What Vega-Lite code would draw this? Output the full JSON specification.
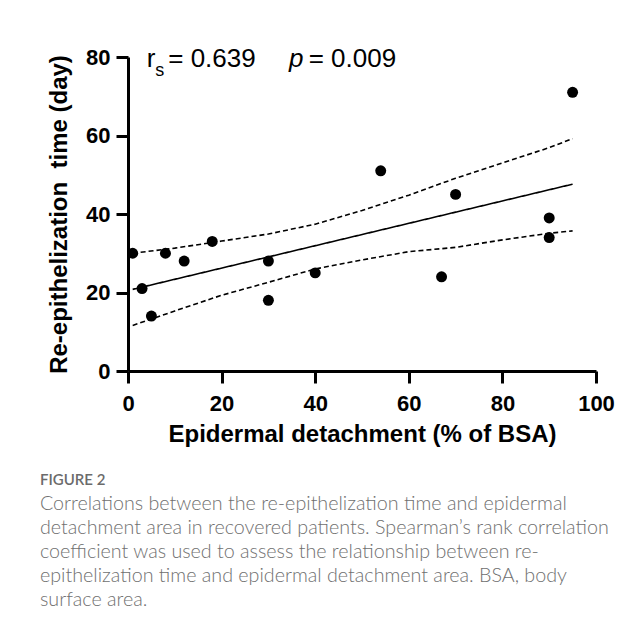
{
  "$schema": "https://vega.github.io/schema/vega-lite/v6.json",
  "width": 468,
  "height": 314,
  "autosize": {"type": "none"},
  "padding": {"left": 128, "top": 57, "right": 45, "bottom": 262},
  "background": "white",
  "datasets": {
    "points": [
      {"x": 1, "y": 30}, {"x": 3, "y": 21}, {"x": 5, "y": 14}, {"x": 8, "y": 30},
      {"x": 12, "y": 28}, {"x": 18, "y": 33}, {"x": 30, "y": 28}, {"x": 30, "y": 18},
      {"x": 40, "y": 25}, {"x": 54, "y": 51}, {"x": 67, "y": 24}, {"x": 70, "y": 45},
      {"x": 90, "y": 39}, {"x": 90, "y": 34}, {"x": 95, "y": 71}
    ],
    "lines": [
      {"series": "fit", "kind": "fit", "x": 1, "y": 20.8},
      {"series": "fit", "kind": "fit", "x": 95, "y": 47.6},
      {"series": "upper", "kind": "band", "x": 1, "y": 30.0},
      {"series": "upper", "kind": "band", "x": 10, "y": 31.3},
      {"series": "upper", "kind": "band", "x": 20, "y": 33.1},
      {"series": "upper", "kind": "band", "x": 30, "y": 34.9},
      {"series": "upper", "kind": "band", "x": 40, "y": 37.4},
      {"series": "upper", "kind": "band", "x": 50, "y": 40.9},
      {"series": "upper", "kind": "band", "x": 60, "y": 44.8},
      {"series": "upper", "kind": "band", "x": 70, "y": 49.1},
      {"series": "upper", "kind": "band", "x": 80, "y": 53.0},
      {"series": "upper", "kind": "band", "x": 90, "y": 56.9},
      {"series": "upper", "kind": "band", "x": 95, "y": 59.2},
      {"series": "lower", "kind": "band", "x": 1, "y": 11.6},
      {"series": "lower", "kind": "band", "x": 10, "y": 15.3},
      {"series": "lower", "kind": "band", "x": 20, "y": 19.3},
      {"series": "lower", "kind": "band", "x": 30, "y": 22.6},
      {"series": "lower", "kind": "band", "x": 40, "y": 26.0},
      {"series": "lower", "kind": "band", "x": 50, "y": 28.3},
      {"series": "lower", "kind": "band", "x": 60, "y": 30.4},
      {"series": "lower", "kind": "band", "x": 70, "y": 31.5},
      {"series": "lower", "kind": "band", "x": 80, "y": 33.4},
      {"series": "lower", "kind": "band", "x": 90, "y": 35.1},
      {"series": "lower", "kind": "band", "x": 95, "y": 35.7}
    ]
  },
  "title": {
    "text": "FIGURE 2",
    "subtitle": [
      "Correlations between the re-epithelization time and epidermal",
      "detachment area in recovered patients. Spearman’s rank correlation",
      "coefficient was used to assess the relationship between re-",
      "epithelization time and epidermal detachment area. BSA, body",
      "surface area."
    ],
    "orient": "bottom",
    "anchor": "start",
    "frame": "group",
    "dx": -88,
    "offset": 27,
    "font": "Lato",
    "fontSize": 15,
    "fontWeight": 600,
    "color": "#6b6b6b",
    "subtitleFont": "Lato",
    "subtitleFontSize": 19.7,
    "subtitleFontWeight": 300,
    "subtitleColor": "#707070",
    "subtitleLineHeight": 24,
    "subtitlePadding": 6
  },
  "layer": [
    {
      "data": {"name": "lines"},
      "mark": {"type": "line", "color": "black", "strokeWidth": 1.6},
      "encoding": {
        "x": {"field": "x", "type": "quantitative", "title": "Epidermal detachment (% of BSA)", "scale": {"domain": [0, 100], "nice": false},
              "axis": {"values": [0, 20, 40, 60, 80, 100], "labelPadding": 10, "titlePadding": 8, "labelFlush": false}},
        "y": {"field": "y", "type": "quantitative", "title": "Re-epithelization\u00a0 time (day)", "scale": {"domain": [0, 80], "nice": false},
              "axis": {"values": [0, 20, 40, 60, 80], "labelPadding": 6, "titlePadding": 14, "labelFlush": false}},
        "detail": {"field": "series"},
        "strokeDash": {"field": "kind", "type": "nominal", "scale": {"domain": ["fit", "band"], "range": [[1, 0], [5, 3]]}, "legend": null}
      }
    },
    {
      "data": {"name": "points"},
      "mark": {"type": "circle", "size": 120, "color": "black", "opacity": 1},
      "encoding": {
        "x": {"field": "x", "type": "quantitative", "title": "Epidermal detachment (% of BSA)"},
        "y": {"field": "y", "type": "quantitative", "title": "Re-epithelization\u00a0 time (day)"}
      }
    },
    {
      "data": {"values": [{}]},
      "mark": {"type": "text", "text": "r", "font": "Liberation Sans", "fontSize": 26, "align": "left", "baseline": "alphabetic", "color": "black"},
      "encoding": {"x": {"datum": 4.0, "type": "quantitative"}, "y": {"datum": 77.5, "type": "quantitative"}}
    },
    {
      "data": {"values": [{}]},
      "mark": {"type": "text", "text": "s", "font": "Liberation Sans", "fontSize": 18, "align": "left", "baseline": "alphabetic", "color": "black"},
      "encoding": {"x": {"datum": 5.8, "type": "quantitative"}, "y": {"datum": 75.2, "type": "quantitative"}}
    },
    {
      "data": {"values": [{}]},
      "mark": {"type": "text", "text": "= 0.639", "font": "Liberation Sans", "fontSize": 26, "align": "left", "baseline": "alphabetic", "color": "black"},
      "encoding": {"x": {"datum": 8.6, "type": "quantitative"}, "y": {"datum": 77.5, "type": "quantitative"}}
    },
    {
      "data": {"values": [{}]},
      "mark": {"type": "text", "text": "p", "font": "Liberation Sans", "fontSize": 26, "fontStyle": "italic", "align": "left", "baseline": "alphabetic", "color": "black"},
      "encoding": {"x": {"datum": 34.4, "type": "quantitative"}, "y": {"datum": 77.5, "type": "quantitative"}}
    },
    {
      "data": {"values": [{}]},
      "mark": {"type": "text", "text": "= 0.009", "font": "Liberation Sans", "fontSize": 26, "align": "left", "baseline": "alphabetic", "color": "black"},
      "encoding": {"x": {"datum": 38.6, "type": "quantitative"}, "y": {"datum": 77.5, "type": "quantitative"}}
    }
  ],
  "config": {
    "view": {"stroke": null},
    "axis": {
      "grid": false,
      "domainColor": "black",
      "domainWidth": 3,
      "tickColor": "black",
      "tickWidth": 3,
      "tickSize": 12,
      "labelFont": "Liberation Sans",
      "labelFontSize": 22,
      "labelFontWeight": "bold",
      "labelColor": "black",
      "titleFont": "Liberation Sans",
      "titleFontSize": 24,
      "titleFontWeight": "bold",
      "titleColor": "black"
    }
  }
}
